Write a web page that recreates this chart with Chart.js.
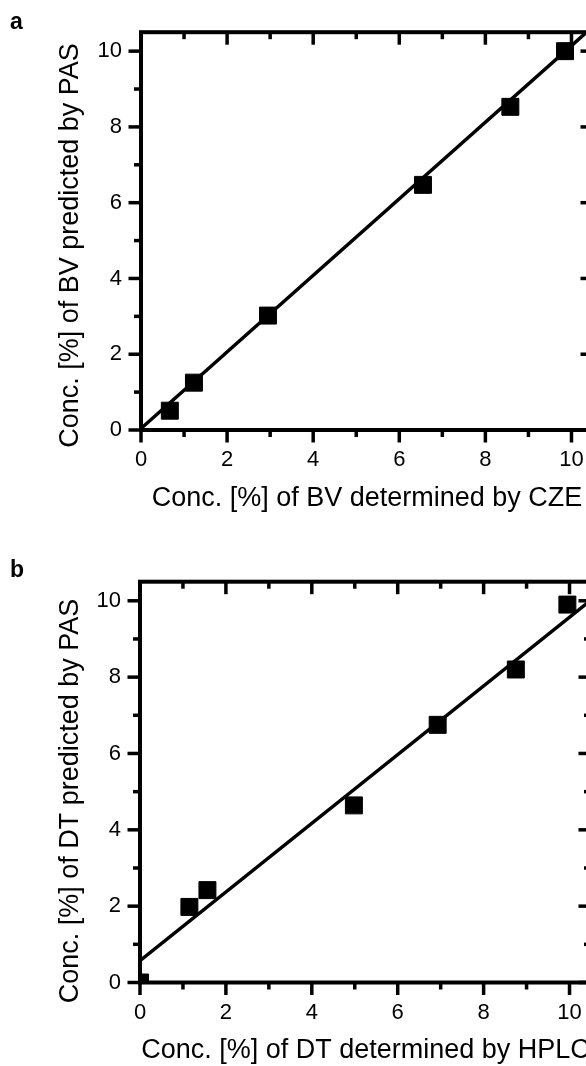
<!DOCTYPE html>
<html><head><meta charset="utf-8">
<script src="https://cdn.jsdelivr.net/npm/chart.js@4.4.1/dist/chart.umd.min.js"></script>
<style>
html,body{margin:0;padding:0;background:#fff;overflow:hidden;}
#wrap{position:relative;width:586px;height:1066px;overflow:hidden;background:#fff;}
canvas{position:absolute;left:0;}
.lab{position:absolute;left:10px;font:bold 23px 'Liberation Sans',Arial,sans-serif;line-height:23px;color:#000;}
</style></head><body>
<div id="wrap">
<canvas id="ca" width="640" height="533" style="top:0"></canvas>
<canvas id="cb" width="640" height="533" style="top:533px"></canvas>
<div class="lab" style="top:10px">a</div>
<div class="lab" style="top:558px">b</div>
</div>
<script>
// Panel a: BV
const bvCZE = [0.67, 1.23, 2.95, 6.55, 8.58, 9.85];
const bvPAS = [0.51, 1.25, 3.02, 6.47, 8.53, 10.0];
const bvFitX = [0, 10.5];
const bvFitY = [0.04, 10.65];
// Panel b: DT
const dtHPLC = [0, 1.15, 1.57, 4.98, 6.93, 8.75, 9.95];
const dtPAS = [0, 1.98, 2.42, 4.64, 6.75, 8.2, 9.9];
const dtFitX = [0, 10.5];
const dtFitY = [0.57, 10.02];
// ticks
const majorTicks = [0, 2, 4, 6, 8, 10];
const minorTicks = [1, 3, 5, 7, 9];
const axisMin = 0, axisMax = 10.5;

const FONT = "'Liberation Sans', Arial, Helvetica, sans-serif";
Chart.defaults.font.family = FONT;
Chart.defaults.color = '#000';

const framePlugin = {
  id: 'frame',
  afterDatasetsDraw(chart, args, opts) {
    const ctx = chart.ctx, a = chart.chartArea, xs = chart.scales.x, ys = chart.scales.y;
    ctx.save();
    ctx.strokeStyle = '#000';
    ctx.lineCap = 'butt';
    const tick = (x1, y1, x2, y2) => { ctx.beginPath(); ctx.moveTo(x1, y1); ctx.lineTo(x2, y2); ctx.stroke(); };
    const drawSet = (vals, len) => {
      vals.forEach(v => {
        const px = xs.getPixelForValue(v), py = ys.getPixelForValue(v);
        tick(px, a.bottom, px, a.bottom + len);
        tick(px, a.top, px, a.top + len);
        tick(a.left, py, a.left - len, py);
        tick(a.right, py, a.right - len, py);
      });
    };
    ctx.lineWidth = 3.5;
    drawSet(majorTicks, 12.5);
    drawSet(minorTicks, 7);
    ctx.lineWidth = 4;
    ctx.strokeRect(a.left, a.top, a.right - a.left, a.bottom - a.top);
    ctx.font = '27px ' + FONT;
    ctx.fillStyle = '#000';
    ctx.textAlign = 'center';
    ctx.textBaseline = 'middle';
    ctx.translate(opts.tx, opts.ty);
    ctx.rotate(-Math.PI / 2);
    ctx.fillText(opts.text, 0, 0);
    ctx.restore();
  }
};

function makeChart(id, px, py, fx, fy, xTitle, yTitle, area) {
  const H = 533, W = 640;
  return new Chart(document.getElementById(id), {
    type: 'scatter',
    data: { datasets: [
      { type: 'line', data: fx.map((v, i) => ({x: v, y: fy[i]})), borderColor: '#000', borderWidth: 3.5,
        pointRadius: 0, fill: false, clip: 0, order: 2 },
      { type: 'scatter', data: px.map((v, i) => ({x: v, y: py[i]})), pointStyle: 'rect', pointRadius: 12,
        backgroundColor: '#000', borderColor: '#000', borderWidth: 1, clip: 0, order: 1 }
    ]},
    options: {
      responsive: false, animation: false, devicePixelRatio: 1,
      layout: { padding: { left: 0, top: area.top, right: W - area.right, bottom: 0 } },
      plugins: { legend: { display: false }, tooltip: { enabled: false },
        frame: { text: yTitle, tx: area.ytx, ty: area.yty } },
      scales: {
        x: { type: 'linear', position: 'bottom', min: axisMin, max: axisMax,
          grid: { display: false, drawTicks: false }, border: { display: false },
          ticks: { includeBounds: false, font: { size: 22 }, color: '#000', padding: 17, maxRotation: 0 },
          afterBuildTicks: s => { s.ticks = majorTicks.map(v => ({ value: v })); },
          afterFit: s => { s.height = H - area.bottom; },
          title: { display: true, text: xTitle, color: '#000', font: { size: 27, lineHeight: 1 },
            padding: { top: 0, bottom: area.xpb } } },
        y: { type: 'linear', position: 'left', min: axisMin, max: axisMax,
          grid: { display: false, drawTicks: false }, border: { display: false },
          ticks: { includeBounds: false, font: { size: 22 }, color: '#000', padding: 19 },
          afterBuildTicks: s => { s.ticks = majorTicks.map(v => ({ value: v })); },
          afterFit: s => { s.width = area.left; } }
      }
    },
    plugins: [framePlugin]
  });
}

makeChart('ca', bvCZE, bvPAS, bvFitX, bvFitY,
  'Conc. [%] of BV determined by CZE', 'Conc. [%] of BV predicted by PAS',
  { left: 141, top: 30.3, right: 593, bottom: 430, xpb: 20.5, ytx: 71, yty: 245.5 });
makeChart('cb', dtHPLC, dtPAS, dtFitX, dtFitY,
  'Conc. [%] of DT determined by HPLC', 'Conc. [%] of DT predicted by PAS',
  { left: 140, top: 48.7, right: 591, bottom: 449.5, xpb: 2, ytx: 70.5, yty: 268 });
</script>
</body></html>
